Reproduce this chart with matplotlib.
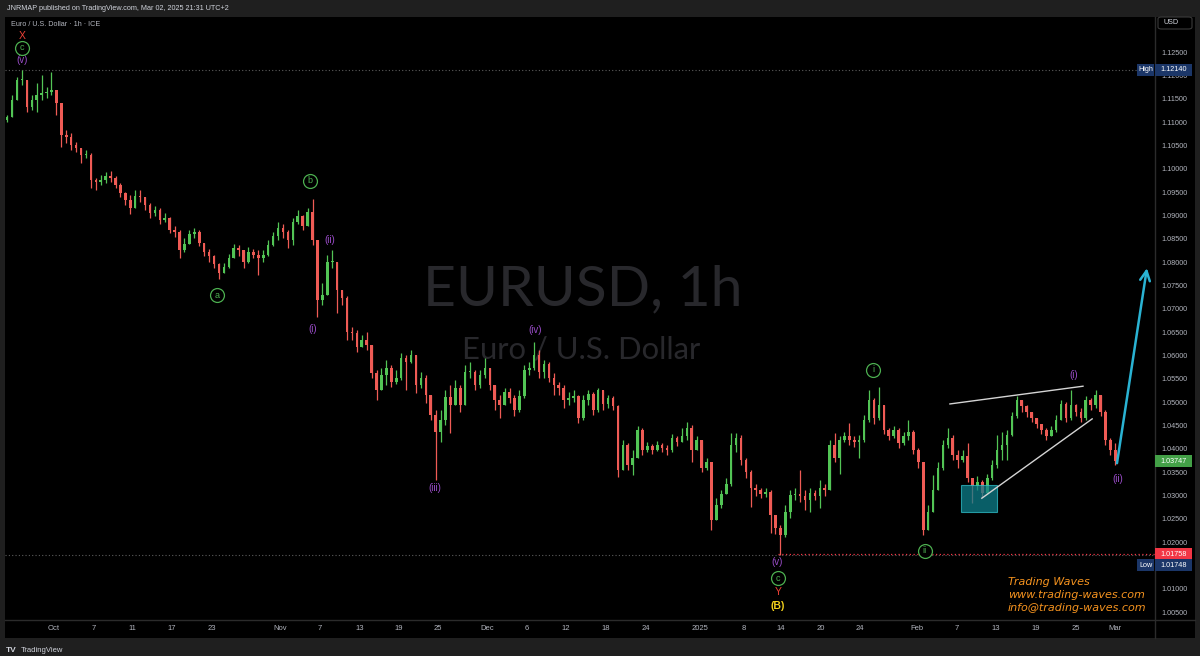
import matplotlib
matplotlib.use("Agg")
import matplotlib.pyplot as plt
import matplotlib.transforms as mtrans
from matplotlib.patches import Rectangle, FancyBboxPatch
from matplotlib.lines import Line2D
from matplotlib.collections import LineCollection, PolyCollection

plt.rcParams['font.family'] = ['Liberation Sans', 'DejaVu Sans']

# x is in trading days (weekends dropped like TradingView), 0 = Oct 1 2024
bar_start = -4.75
bar_step = 0.5
first_open = 1.1106
closes = [
    1.1113, 1.1149, 1.1192, 1.1192, 1.1134, 1.1149, 1.1160, 1.1164, 1.1166, 1.1171,
    1.1143, 1.1074, 1.1070, 1.1053, 1.1046, 1.1031, 1.1031, 1.0978, 1.0974, 1.0978,
    1.0986, 1.0982, 1.0967, 1.0950, 1.0935, 1.0918, 1.0944, 1.0941, 1.0924, 1.0907,
    1.0914, 1.0892, 1.0896, 1.0871, 1.0866, 1.0828, 1.0841, 1.0862, 1.0866, 1.0843,
    1.0824, 1.0815, 1.0798, 1.0779, 1.0791, 1.0811, 1.0832, 1.0828, 1.0802, 1.0824,
    1.0817, 1.0811, 1.0817, 1.0839, 1.0858, 1.0875, 1.0866, 1.0849, 1.0888, 1.0901,
    1.0879, 1.0909, 1.0849, 1.0721, 1.0731, 1.0802, 1.0802, 1.0742, 1.0725, 1.0652,
    1.0650, 1.0620, 1.0635, 1.0624, 1.0564, 1.0528, 1.0560, 1.0575, 1.0545, 1.0554,
    1.0596, 1.0588, 1.0603, 1.0539, 1.0554, 1.0517, 1.0474, 1.0438, 1.0464, 1.0513,
    1.0496, 1.0532, 1.0496, 1.0566, 1.0566, 1.0539, 1.0560, 1.0575, 1.0539, 1.0506,
    1.0496, 1.0524, 1.0511, 1.0485, 1.0515, 1.0571, 1.0575, 1.0603, 1.0566, 1.0584,
    1.0554, 1.0539, 1.0532, 1.0506, 1.0511, 1.0515, 1.0468, 1.0506, 1.0519, 1.0485,
    1.0528, 1.0498, 1.0511, 1.0494, 1.0356, 1.0410, 1.0367, 1.0382, 1.0442, 1.0399,
    1.0408, 1.0399, 1.0410, 1.0404, 1.0399, 1.0425, 1.0416, 1.0429, 1.0446, 1.0399,
    1.0421, 1.0361, 1.0374, 1.0249, 1.0281, 1.0305, 1.0326, 1.0410, 1.0425, 1.0378,
    1.0352, 1.0318, 1.0314, 1.0305, 1.0309, 1.0260, 1.0232, 1.0217, 1.0266, 1.0303,
    1.0305, 1.0301, 1.0292, 1.0307, 1.0301, 1.0318, 1.0314, 1.0410, 1.0382, 1.0421,
    1.0429, 1.0421, 1.0416, 1.0421, 1.0464, 1.0506, 1.0468, 1.0496, 1.0442, 1.0429,
    1.0442, 1.0414, 1.0429, 1.0438, 1.0399, 1.0374, 1.0228, 1.0266, 1.0314, 1.0361,
    1.0410, 1.0425, 1.0389, 1.0378, 1.0386, 1.0339, 1.0322, 1.0331, 1.0307, 1.0339,
    1.0367, 1.0399, 1.0410, 1.0432, 1.0472, 1.0506, 1.0494, 1.0481, 1.0468, 1.0455,
    1.0442, 1.0429, 1.0442, 1.0464, 1.0498, 1.0468, 1.0496, 1.0481, 1.0468, 1.0506,
    1.0496, 1.0517, 1.0481, 1.0421, 1.0399, 1.03747,
]
highs = [
    1.1117, 1.1160, 1.1199, 1.1214, 1.1188, 1.1160, 1.1186, 1.1203, 1.1177, 1.1209,
    1.1171, 1.1143, 1.1085, 1.1079, 1.1059, 1.1046, 1.1042, 1.1036, 1.0982, 1.0989,
    1.0995, 1.0997, 1.0986, 1.0971, 1.0952, 1.0946, 1.0956, 1.0956, 1.0941, 1.0929,
    1.0922, 1.0918, 1.0907, 1.0899, 1.0879, 1.0871, 1.0854, 1.0871, 1.0875, 1.0871,
    1.0843, 1.0830, 1.0817, 1.0800, 1.0800, 1.0819, 1.0841, 1.0839, 1.0828, 1.0834,
    1.0830, 1.0828, 1.0828, 1.0849, 1.0866, 1.0888, 1.0884, 1.0871, 1.0896, 1.0914,
    1.0903, 1.0918, 1.0937, 1.0849, 1.0757, 1.0817, 1.0828, 1.0802, 1.0742, 1.0729,
    1.0663, 1.0656, 1.0646, 1.0652, 1.0624, 1.0571, 1.0575, 1.0592, 1.0581, 1.0571,
    1.0607, 1.0603, 1.0614, 1.0603, 1.0566, 1.0560, 1.0517, 1.0485, 1.0485, 1.0528,
    1.0539, 1.0549, 1.0539, 1.0581, 1.0588, 1.0571, 1.0571, 1.0596, 1.0575, 1.0539,
    1.0517, 1.0532, 1.0532, 1.0517, 1.0528, 1.0581, 1.0588, 1.0631, 1.0614, 1.0592,
    1.0588, 1.0564, 1.0545, 1.0539, 1.0524, 1.0528, 1.0517, 1.0517, 1.0528, 1.0524,
    1.0532, 1.0528, 1.0517, 1.0515, 1.0496, 1.0421, 1.0414, 1.0399, 1.0451, 1.0446,
    1.0416, 1.0412, 1.0419, 1.0414, 1.0410, 1.0434, 1.0429, 1.0446, 1.0459, 1.0453,
    1.0429, 1.0421, 1.0382, 1.0374, 1.0296, 1.0314, 1.0339, 1.0436, 1.0436, 1.0432,
    1.0382, 1.0356, 1.0326, 1.0318, 1.0318, 1.0314, 1.0260, 1.0239, 1.0281, 1.0314,
    1.0318, 1.0356, 1.0314, 1.0318, 1.0314, 1.0335, 1.0326, 1.0421, 1.0436, 1.0429,
    1.0438, 1.0457, 1.0429, 1.0432, 1.0474, 1.0528, 1.0511, 1.0534, 1.0496, 1.0446,
    1.0451, 1.0446, 1.0438, 1.0464, 1.0442, 1.0404, 1.0374, 1.0281, 1.0346, 1.0374,
    1.0421, 1.0446, 1.0432, 1.0399, 1.0399, 1.0414, 1.0339, 1.0344, 1.0335, 1.0348,
    1.0378, 1.0432, 1.0438, 1.0442, 1.0481, 1.0515, 1.0506, 1.0496, 1.0481, 1.0468,
    1.0455, 1.0446, 1.0451, 1.0474, 1.0506, 1.0502, 1.0528, 1.0498, 1.0489, 1.0515,
    1.0511, 1.0528, 1.0515, 1.0485, 1.0425, 1.0414,
]
lows = [
    1.1102, 1.1113, 1.1149, 1.1181, 1.1124, 1.1128, 1.1124, 1.1149, 1.1154, 1.1160,
    1.1117, 1.1049, 1.1057, 1.1042, 1.1038, 1.1014, 1.1025, 1.0961, 1.0956, 1.0967,
    1.0971, 1.0974, 1.0961, 1.0941, 1.0924, 1.0905, 1.0924, 1.0931, 1.0914, 1.0896,
    1.0901, 1.0884, 1.0888, 1.0864, 1.0856, 1.0811, 1.0824, 1.0841, 1.0854, 1.0836,
    1.0815, 1.0802, 1.0789, 1.0766, 1.0779, 1.0789, 1.0811, 1.0815, 1.0789, 1.0800,
    1.0811, 1.0774, 1.0802, 1.0815, 1.0836, 1.0849, 1.0854, 1.0832, 1.0839, 1.0884,
    1.0871, 1.0879, 1.0839, 1.0684, 1.0710, 1.0738, 1.0789, 1.0693, 1.0710, 1.0635,
    1.0635, 1.0609, 1.0622, 1.0614, 1.0554, 1.0506, 1.0528, 1.0539, 1.0534, 1.0541,
    1.0549, 1.0528, 1.0586, 1.0521, 1.0532, 1.0500, 1.0464, 1.0335, 1.0416, 1.0453,
    1.0436, 1.0496, 1.0481, 1.0496, 1.0554, 1.0528, 1.0532, 1.0554, 1.0528, 1.0485,
    1.0468, 1.0496, 1.0500, 1.0472, 1.0481, 1.0511, 1.0560, 1.0571, 1.0554, 1.0554,
    1.0545, 1.0517, 1.0517, 1.0489, 1.0496, 1.0502, 1.0457, 1.0464, 1.0496, 1.0474,
    1.0481, 1.0485, 1.0489, 1.0485, 1.0341, 1.0361, 1.0356, 1.0346, 1.0382, 1.0389,
    1.0395, 1.0391, 1.0397, 1.0395, 1.0389, 1.0395, 1.0408, 1.0416, 1.0421, 1.0374,
    1.0399, 1.0352, 1.0356, 1.0228, 1.0260, 1.0275, 1.0305, 1.0322, 1.0395, 1.0367,
    1.0339, 1.0277, 1.0301, 1.0296, 1.0299, 1.0221, 1.0219, 1.01748, 1.0213, 1.0254,
    1.0292, 1.0288, 1.0271, 1.0266, 1.0292, 1.0275, 1.0301, 1.0318, 1.0374, 1.0348,
    1.0416, 1.0410, 1.0406, 1.0382, 1.0416, 1.0459, 1.0455, 1.0464, 1.0434, 1.0421,
    1.0425, 1.0404, 1.0410, 1.0421, 1.0391, 1.0361, 1.0217, 1.0228, 1.0292, 1.0339,
    1.0356, 1.0404, 1.0378, 1.0361, 1.0374, 1.0331, 1.0286, 1.0314, 1.0299, 1.0305,
    1.0335, 1.0361, 1.0378, 1.0378, 1.0429, 1.0468, 1.0481, 1.0470, 1.0459, 1.0446,
    1.0434, 1.0421, 1.0429, 1.0438, 1.0464, 1.0459, 1.0464, 1.0472, 1.0459, 1.0464,
    1.0485, 1.0489, 1.0472, 1.0410, 1.0389, 1.0367,
]

tick_pos = [0, 4, 8, 12, 16, 23, 27, 31, 35, 39, 44, 48, 52, 56, 60.1,
            65.6, 70, 73.8, 77.8, 81.8, 87.6, 91.7, 95.6, 99.7, 103.7, 107.7]
tick_labels = ['Oct', '7', '11', '17', '23', 'Nov', '7', '13', '19', '25',
               'Dec', '6', '12', '18', '24', '2025', '8', '14', '20', '24',
               'Feb', '7', '13', '19', '25', 'Mar']
price_ticks = [1.125, 1.120, 1.115, 1.110, 1.105, 1.100, 1.095, 1.090, 1.085,
               1.080, 1.075, 1.070, 1.065, 1.060, 1.055, 1.050, 1.045, 1.040,
               1.035, 1.030, 1.025, 1.020, 1.015, 1.010, 1.005]

high_price = 1.12140
low_price = 1.01748
line_price = 1.01758
last_price = 1.03747

# elliott wave labels (time, price)
purple_labels = [("(v)", -3.25, 1.1235), ("(i)", 26.3, 1.0659), ("(ii)", 28.0, 1.0849),
                 ("(iii)", 38.7, 1.0318), ("(iv)", 48.8, 1.0656), ("(v)", 73.4, 1.0159),
                 ("(i)", 103.55, 1.0560), ("(ii)", 108.0, 1.0337)]
circle_labels = [("c", -3.25, 1.1261), ("b", 26.0, 1.0976), ("a", 16.55, 1.0731),
                 ("c", 73.5, 1.0125), ("i", 83.15, 1.0571), ("ii", 88.4, 1.0183)]
red_labels = [("X", -3.25, 1.1286), ("Y", 73.5, 1.0094)]
yellow_label = ("(B)", 73.5, 1.0065)

wedge_upper = ([90.96, 104.47], [1.0498, 1.0536])
wedge_lower = ([94.2, 105.4], [1.0296, 1.0466])
box_t = (92.08, 95.74)
box_p = (1.0266, 1.0324)
arrow_from = (107.92, 1.0371)
arrow_to = (110.96, 1.0789)

UP = '#52c455'
DOWN = '#ef5b55'
PURPLE = '#9b4dca'
GREEN = '#4caf50'
TXT = '#b2b5be'

W, H = 1200, 656
def fx(px):
    return px / W
def fy(py):
    return 1 - py / H

fig = plt.figure(figsize=(12, 6.56), dpi=100, facecolor='#1f1f1f')

bg = fig.add_axes([fx(5), fy(638), 1190 / W, 621 / H])
bg.set_facecolor('black')
bg.set_xticks([])
bg.set_yticks([])
for s in bg.spines.values():
    s.set_visible(False)

ax = fig.add_axes([fx(5), fy(620), 1150 / W, 603 / H])
ax.set_facecolor('black')
ax.set_xlim(-4.97, 111.78)
ax.set_ylim(1.0035, 1.13272)
ax.set_xticks([])
ax.set_yticks([])
for s in ax.spines.values():
    s.set_visible(False)

ppx = (1.13272 - 1.0035) / 603  # price per pixel

# watermark
ax.text(0.502, 0.547, "EURUSD, 1h", transform=ax.transAxes, ha='center', va='center',
        fontsize=41, color='#28282c', family='Lato', zorder=0.5)
ax.text(0.501, 0.448, "Euro / U.S. Dollar", transform=ax.transAxes, ha='center',
        va='center', fontsize=22.3, color='#28282c', family='Lato', zorder=0.5)

# candles
opens = [first_open] + closes[:-1]
bodies, wicks, cols = [], [], []
hw = 0.13
for i in range(len(closes)):
    t = bar_start + bar_step * i
    o, c = opens[i], closes[i]
    h = max(highs[i], o, c)
    l = min(lows[i], o, c)
    col = UP if c >= o else DOWN
    top, bot = max(o, c), min(o, c)
    if top - bot < ppx:
        top = bot + ppx
    bodies.append([(t - hw, bot), (t + hw, bot), (t + hw, top), (t - hw, top)])
    wicks.append([(t, l), (t, h)])
    cols.append(col)
ax.add_collection(LineCollection(wicks, colors=cols, linewidths=0.9, zorder=2))
ax.add_collection(PolyCollection(bodies, facecolors=cols, edgecolors='none', zorder=2.1))

# high / low dotted lines
ax.axhline(high_price, color='#5d5d5d', lw=0.8, ls=(0, (1, 2)), zorder=1)
ax.axhline(low_price, color='#5d5d5d', lw=0.8, ls=(0, (1, 2)), zorder=1)
ax.plot([73.5, 111.78], [line_price, line_price], color='#f23645', lw=0.9,
        ls=(0, (1, 2)), zorder=1.2)

# drawings
ax.add_patch(Rectangle((box_t[0], box_p[0]), box_t[1] - box_t[0], box_p[1] - box_p[0],
                       fc='#0d7f8b', ec='#2fbfc9', lw=0.8, alpha=0.75, zorder=3))
ax.plot(*wedge_upper, color='#d4d4d4', lw=1.0, zorder=4)
ax.plot(*wedge_lower, color='#d4d4d4', lw=1.0, zorder=4)
ax.annotate('', xy=arrow_to, xytext=arrow_from, zorder=5, annotation_clip=False,
            arrowprops=dict(arrowstyle='->,head_length=0.7,head_width=0.35',
                            color='#2ab3d3', lw=1.8, shrinkA=0, shrinkB=0))

for txt, t, p in purple_labels:
    ax.text(t, p, txt, color=PURPLE, fontsize=7, ha='center', va='center', zorder=6)
for txt, t, p in red_labels:
    ax.text(t, p, txt, color='#ef4136', fontsize=7.5, ha='center', va='center', zorder=6)
ax.text(yellow_label[1], yellow_label[2], yellow_label[0], color='#f5d31c', fontsize=7.5,
        fontweight='bold', ha='center', va='center', zorder=6)
ax.scatter([c[1] for c in circle_labels], [c[2] for c in circle_labels], s=100,
           facecolors='black', edgecolors=GREEN, linewidths=0.9, zorder=6)
for txt, t, p in circle_labels:
    ax.text(t, p, txt, color=GREEN, fontsize=6.5, ha='center', va='center', zorder=7)

# separators
fig.add_artist(Line2D([fx(5), fx(1195)], [fy(620), fy(620)], color='#2b2b2b', lw=1))
fig.add_artist(Line2D([fx(1155), fx(1155)], [fy(17), fy(638)], color='#2b2b2b', lw=1))

# time axis
tr_x = mtrans.blended_transform_factory(ax.transData, fig.transFigure)
for pos, lab in zip(tick_pos, tick_labels):
    fig.text(pos, fy(629), lab, transform=tr_x, ha='center', va='center',
             fontsize=5.5, color=TXT)

# price axis
tr_y = mtrans.blended_transform_factory(fig.transFigure, ax.transData)
for p in price_ticks:
    fig.text(fx(1161), p, f"{p:.5f}", transform=tr_y, ha='left', va='center',
             fontsize=5.2, color=TXT)

def tag(price, text, fc, label=None):
    hh = 6 * ppx
    fig.add_artist(Rectangle((fx(1155), price - hh), 37 / W, 2 * hh, transform=tr_y,
                             fc=fc, ec='none', zorder=8))
    fig.text(fx(1173.5), price, text, transform=tr_y, ha='center', va='center',
             fontsize=5.2, color='white', zorder=9)
    if label:
        fig.add_artist(Rectangle((fx(1137), price - hh), 17 / W, 2 * hh, transform=tr_y,
                                 fc=fc, ec='none', zorder=8))
        fig.text(fx(1145.5), price, label, transform=tr_y, ha='center', va='center',
                 fontsize=5.2, color='white', zorder=9)

tag(high_price, "1.12140", '#1b3668', "High")
tag(last_price, "1.03747", '#43a047')
tag(line_price, "1.01758", '#f23645')
tag(line_price - 11 * ppx, "1.01748", '#1b3668', "Low")

fig.add_artist(FancyBboxPatch((fx(1158), fy(29)), 34 / W, 12 / H,
                              boxstyle='round,pad=0,rounding_size=0.003',
                              transform=fig.transFigure, fc='black', ec='#3a3a3a', lw=0.8))
fig.text(fx(1163), fy(23), "USD", ha='left', va='center', fontsize=5.2, color='#d1d4dc')

# header / footer
fig.text(fx(7), fy(8.5), "JNRMAP published on TradingView.com, Mar 02, 2025 21:31 UTC+2",
         ha='left', va='center', fontsize=5.2, color='#d1d4dc')
fig.text(fx(11), fy(25), "Euro / U.S. Dollar \u00b7 1h \u00b7 ICE",
         ha='left', va='center', fontsize=5.2, color=TXT)
fig.text(fx(6), fy(651), "TV", ha='left', va='center', fontsize=6, fontweight='bold',
         color='#d1d4dc')
fig.text(fx(21), fy(651), "TradingView", ha='left', va='center', fontsize=5.5,
         color='#d1d4dc')

for k, line in enumerate(["Trading Waves", "www.trading-waves.com", "info@trading-waves.com"]):
    fig.text(fx(1008), fy(582 + 13 * k), line, ha='left', va='center', fontsize=8,
             style='italic', color='#f5931f', family='DejaVu Sans')

fig.savefig("out.png", dpi=100, facecolor=fig.get_facecolor())
